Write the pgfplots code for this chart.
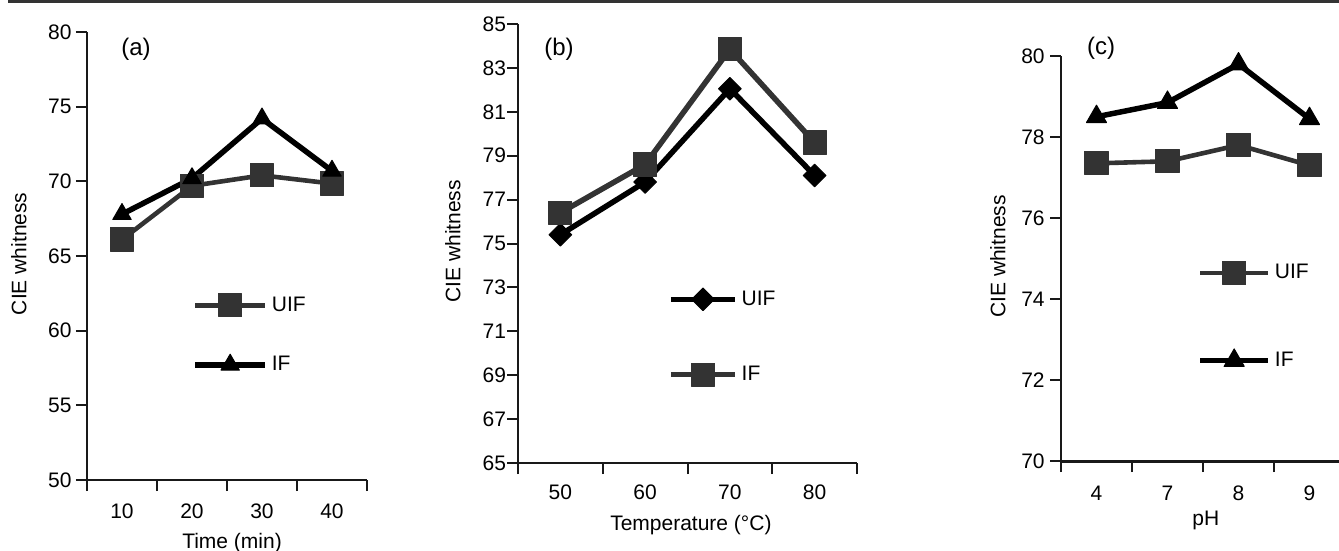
\documentclass[border=0pt]{standalone}
\usepackage{fontspec}
\setmainfont{Liberation Sans}
\usepackage{pgfplots}
\pgfplotsset{compat=1.18}

\definecolor{ugrey}{HTML}{333333}
\newcommand{\lab}{\fontsize{10.5}{12}\selectfont}

\pgfplotsset{
  panel/.style={
    scale only axis, clip=false,
    axis lines=left, axis line style={-, line width=1pt, black!90},
    tick align=outside,
    every tick/.style={line width=1pt, black!90},
    major tick length=5.5pt, minor tick length=5.5pt,
    major x tick style={draw=none},
    xmin=-0.5, xmax=3.5, xtick={0,1,2,3},
    minor xtick={-0.5,0.5,1.5,2.5,3.5},
    tick label style={font=\lab},
    /pgf/number format/assume math mode=true,
    label style={font=\lab},
    legend cell align=left,
    legend style={draw=none, fill=none, inner sep=0pt, anchor=west, font=\lab},
  },
  greysq/.style={ugrey, line width=2.3pt, line join=round, mark=square*,
    mark size=5.8pt, mark options={line width=0.5pt, fill=ugrey}},
  blacktri/.style={black, line width=2.75pt, line join=round, mark=triangle*,
    mark size=#1, mark options={line width=0.5pt}},
  blackdia/.style={black, line width=2.75pt, line join=round, mark=square*,
    mark size=4pt, mark options={rotate=45, line width=0.5pt}},
}

\begin{document}
\begin{tikzpicture}
\useasboundingbox (0,0) rectangle (669.5pt,-275.5pt);
\draw[line width=1.3pt, black!80] (4pt,-0.7pt) -- (669.5pt,-0.7pt);

% (a) time
\begin{axis}[panel, at={(43.5pt,-240pt)}, anchor=south west,
  width=140pt, height=224pt,
  ymin=50, ymax=80, ytick={50,55,...,80},
  xticklabels={10,20,30,40},
  xticklabel style={anchor=north, inner ysep=0pt, yshift=-6.25pt},
  yticklabel style={anchor=east, inner xsep=0pt, xshift=-2pt},
  xlabel={Time (min)}, ylabel={CIE whitness},
  xlabel style={at={(axis description cs:0.518,-0.14)}, anchor=center},
  ylabel style={at={(axis description cs:-0.243,0.505)}, anchor=center},
  legend image code/.code={\draw[mark repeat=2,mark phase=2,#1] plot coordinates {(0pt,0pt) (17.5pt,0pt) (35pt,0pt)};},
  legend style={at={(0.375,0.3235)}, row sep=17pt}]
  \addplot[greysq] coordinates {(0,66.1) (1,69.7) (2,70.4) (3,69.85)};
  \addplot[blacktri=5.3pt] coordinates {(0,67.8) (1,70.2) (2,74.2) (3,70.7)};
  \legend{UIF,IF}
  \node[font=\fontsize{12}{14}\selectfont] at (rel axis cs:0.175,0.962) {(a)};
\end{axis}

% (b) temperature
\begin{axis}[panel, at={(259pt,-231.5pt)}, anchor=south west,
  width=169.5pt, height=219.5pt,
  ymin=65, ymax=85, ytick={65,67,...,85},
  xticklabels={50,60,70,80},
  xticklabel style={anchor=north, inner ysep=0pt, yshift=-5.25pt},
  yticklabel style={anchor=east, inner xsep=0pt, xshift=-0.3pt},
  xlabel={Temperature (°C)}, ylabel={CIE whitness},
  xlabel style={at={(axis description cs:0.51,-0.141)}, anchor=center},
  ylabel style={at={(axis description cs:-0.192,0.505)}, anchor=center},
  legend image code/.code={\draw[mark repeat=2,mark phase=2,#1] plot coordinates {(0pt,0pt) (16pt,0pt) (32pt,0pt)};},
  legend style={at={(0.442,0.287)}, row sep=25pt}]
  \addplot[blackdia] coordinates {(0,75.4) (1,77.8) (2,82.05) (3,78.1)};
  \addplot[greysq, line width=2.75pt] coordinates {(0,76.4) (1,78.6) (2,83.85) (3,79.6)};
  \legend{UIF,IF}
  \node[font=\fontsize{12}{14}\selectfont] at (rel axis cs:0.121,0.943) {(b)};
\end{axis}

% (c) pH
\begin{axis}[panel, at={(530.5pt,-230.5pt)}, anchor=south west,
  width=142pt, height=202.5pt,
  ymin=70, ymax=80, ytick={70,72,...,80},
  x axis line style={line width=1.5pt},
  xticklabels={4,7,8,9},
  xticklabel style={anchor=north, inner ysep=0pt, yshift=-6.75pt},
  yticklabel style={anchor=east, inner xsep=0pt, xshift=-2.5pt},
  xlabel={pH}, ylabel={CIE whitness},
  xlabel style={at={(axis description cs:0.51,-0.148)}, anchor=center},
  ylabel style={at={(axis description cs:-0.222,0.505)}, anchor=center},
  legend image code/.code={\draw[mark repeat=2,mark phase=2,#1] plot coordinates {(0pt,0pt) (17pt,0pt) (34pt,0pt)};},
  legend style={at={(0.479,0.356)}, row sep=31pt}]
  \addplot[greysq] coordinates {(0,77.35) (1,77.4) (2,77.8) (3,77.3)};
  \addplot[blacktri=5.8pt] coordinates {(0,78.5) (1,78.85) (2,79.8) (3,78.45)};
  \legend{UIF,IF}
  \node[font=\fontsize{12}{14}\selectfont] at (rel axis cs:0.141,1.02) {(c)};
\end{axis}
\end{tikzpicture}
\end{document}
